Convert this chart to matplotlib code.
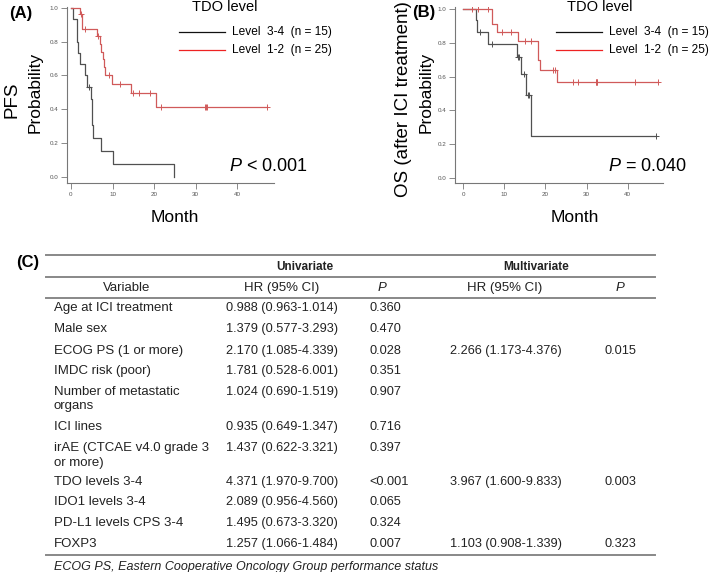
import matplotlib
matplotlib.use("Agg")
import matplotlib.pyplot as plt
from matplotlib.lines import Line2D
import numpy as np

plt.rcParams['font.family'] = ['Liberation Sans', 'DejaVu Sans']
plt.rcParams['mathtext.fontset'] = 'custom'
plt.rcParams['mathtext.it'] = 'Liberation Sans:italic'
plt.rcParams['mathtext.rm'] = 'Liberation Sans'

# ---- survival data (months, 1 = event, 0 = censored)
pfs_hi_time = [0.4, 1.4, 1.4, 1.8, 2.2, 3.3, 3.9, 4.3, 4.8, 5.1, 5.1, 5.4, 7.2, 10.2, 24.7]
pfs_hi_event = [1, 1, 1, 1, 1, 1, 1, 0, 1, 1, 1, 1, 1, 1, 1]
pfs_lo_time = [2.2, 2.4, 2.7, 2.7, 3.4, 6.3, 6.5, 6.9, 7.3, 7.6, 7.9, 8.3, 9.1,
               9.8, 11.8, 14.5, 14.9, 16.4, 19.0, 20.5, 21.8, 32.4, 32.5, 32.7, 47.2]
pfs_lo_event = [1, 0, 1, 1, 0, 1, 0, 1, 1, 1, 1, 1, 0, 1, 0, 1, 0, 0, 0, 1, 0, 0, 0, 0, 0]

os_hi_time = [3.0, 3.4, 4.1, 6.1, 6.9, 13.0, 13.4, 13.5, 14.0, 14.8, 15.2, 15.8, 16.0, 16.5, 47.0]
os_hi_event = [1, 1, 0, 1, 0, 1, 0, 0, 1, 0, 1, 0, 0, 1, 0]
os_lo_time = [2.0, 3.5, 6.1, 6.9, 6.9, 8.3, 9.3, 11.7, 13.2, 15.0, 16.5, 18.1, 18.1,
              18.7, 21.9, 22.2, 22.9, 26.8, 27.8, 32.3, 32.4, 32.5, 32.6, 41.8, 47.4]
os_lo_event = [0, 0, 0, 1, 1, 1, 0, 0, 1, 0, 0, 1, 1, 1, 0, 0, 1, 0, 0, 0, 0, 0, 0, 0, 0]

legend_labels = ['Level  3-4  (n = 15)', 'Level  1-2  (n = 25)']
p_texts = ['$P$ < 0.001', '$P$ = 0.040']

# ---- table data
variables = ['Age at ICI treatment', 'Male sex', 'ECOG PS (1 or more)', 'IMDC risk (poor)',
             'Number of metastatic\norgans', 'ICI lines', 'irAE (CTCAE v4.0 grade 3\nor more)',
             'TDO levels 3-4', 'IDO1 levels 3-4', 'PD-L1 levels CPS 3-4', 'FOXP3']
uni_hr = ['0.988 (0.963-1.014)', '1.379 (0.577-3.293)', '2.170 (1.085-4.339)',
          '1.781 (0.528-6.001)', '1.024 (0.690-1.519)', '0.935 (0.649-1.347)',
          '1.437 (0.622-3.321)', '4.371 (1.970-9.700)', '2.089 (0.956-4.560)',
          '1.495 (0.673-3.320)', '1.257 (1.066-1.484)']
uni_p = ['0.360', '0.470', '0.028', '0.351', '0.907', '0.716', '0.397', '<0.001',
         '0.065', '0.324', '0.007']
multi_hr = ['', '', '2.266 (1.173-4.376)', '', '', '', '', '3.967 (1.600-9.833)', '', '',
            '1.103 (0.908-1.339)']
multi_p = ['', '', '0.015', '', '', '', '', '0.003', '', '', '0.323']
footnote = 'ECOG PS, Eastern Cooperative Oncology Group performance status'

W, H = 709, 572
fig = plt.figure(figsize=(W / 100, H / 100), dpi=100)


def fx(x):
    return x / W


def fy(y):
    return 1 - y / H


def km(times, events):
    times = np.array(times)
    events = np.array(events)
    n = len(times)
    s = 1.0
    xs, ys, cx, cy = [0.0], [1.0], [], []
    for t in np.unique(times):
        d = int(((times == t) & (events == 1)).sum())
        c = int(((times == t) & (events == 0)).sum())
        if d:
            s *= (n - d) / n
        xs.append(t)
        ys.append(s)
        if c:
            cx.append(t)
            cy.append(s)
        n -= d + c
    return xs, ys, cx, cy


def km_panel(box, xlim, ylim, curves):
    l, r, t, b = box
    ax = fig.add_axes([fx(l), fy(b), fx(r - l), (b - t) / H])
    for times, events, col in curves:
        xs, ys, cx, cy = km(times, events)
        ax.step(xs, ys, where='post', color=col, lw=0.9)
        ax.plot(cx, cy, ls='none', marker='+', ms=4, mew=0.7, color=col)
    ax.set_xlim(xlim)
    ax.set_ylim(ylim)
    ax.set_xticks([0, 10, 20, 30, 40])
    ax.set_yticks([0, 0.2, 0.4, 0.6, 0.8, 1.0])
    ax.set_yticklabels(['0.0', '0.2', '0.4', '0.6', '0.8', '1.0'])
    for sp in ['top', 'right']:
        ax.spines[sp].set_visible(False)
    for sp in ['left', 'bottom']:
        ax.spines[sp].set_color('#777777')
        ax.spines[sp].set_linewidth(0.8)
    ax.tick_params(labelsize=4.5, labelcolor='#555555', color='#777777',
                   length=4, width=0.6, pad=2)
    return ax


black_c = '#505050'
red_c = '#d05a5a'
km_panel((67, 274, 6.7, 183.3), (-0.96, 48.9), (-0.039, 1.006),
         [(pfs_hi_time, pfs_hi_event, black_c), (pfs_lo_time, pfs_lo_event, red_c)])
km_panel((455, 663, 7, 183.3), (-2.02, 48.6), (-0.033, 1.012),
         [(os_hi_time, os_hi_event, black_c), (os_lo_time, os_lo_event, red_c)])

# panel labels / axis titles
fig.text(fx(21), fy(13.5), '(A)', fontsize=12, fontweight='bold', ha='center', va='center')
fig.text(fx(423.5), fy(12), '(B)', fontsize=12, fontweight='bold', ha='center', va='center')
fig.text(fx(11.7), fy(100), 'PFS', fontsize=13.5, rotation=90, ha='center', va='center')
fig.text(fx(35), fy(92), 'Probability', fontsize=12.5, rotation=90, ha='center', va='center')
fig.text(fx(403), fy(99), 'OS (after ICI treatment)', fontsize=13.5, rotation=90,
         ha='center', va='center')
fig.text(fx(426), fy(92), 'Probability', fontsize=12.5, rotation=90, ha='center', va='center')
fig.text(fx(175), fy(218), 'Month', fontsize=12.5, ha='center', va='center')
fig.text(fx(575), fy(218), 'Month', fontsize=12.5, ha='center', va='center')

# legends and p-values
for lx, tx, px, ptxt in [(179, 225, 229, p_texts[0]), (556, 600, 608, p_texts[1])]:
    fig.text(fx(tx), fy(7), 'TDO level', fontsize=10.5, ha='center', va='center')
    for i, (lab, col) in enumerate(zip(legend_labels, ['#111111', '#ee2222'])):
        y = 31.5 + i * 18.5
        fig.add_artist(Line2D([fx(lx), fx(lx + 46)], [fy(y), fy(y)], color=col, lw=0.9))
        fig.text(fx(lx + 53), fy(y), lab, fontsize=8.6, ha='left', va='center')
    fig.text(fx(px), fy(171), ptxt, fontsize=13, ha='left', va='baseline')

# ---- table
narrow = ['Liberation Sans Narrow', 'Liberation Sans', 'DejaVu Sans']
tcol = '#222222'
rule_c = '#888888'
for y in [255, 276.7, 297.7, 555]:
    fig.add_artist(Line2D([fx(45.5), fx(654.5)], [fy(y), fy(y)], color=rule_c, lw=1.4))

fig.text(fx(28), fy(262), '(C)', fontsize=12, fontweight='bold', ha='center', va='center')
fig.text(fx(304.5), fy(266.7), 'Univariate', fontsize=8.5, fontweight='bold',
         family=narrow, ha='center', va='center', color=tcol)
fig.text(fx(536), fy(266.7), 'Multivariate', fontsize=8.5, fontweight='bold',
         family=narrow, ha='center', va='center', color=tcol)
for cx, lab, st in [(127, 'Variable', 'normal'), (282, 'HR (95% CI)', 'normal'),
                    (382, 'P', 'italic'), (504.5, 'HR (95% CI)', 'normal'),
                    (620, 'P', 'italic')]:
    fig.text(fx(cx), fy(288.3), lab, fontsize=9.5, family=narrow, style=st,
             ha='center', va='center', color=tcol)

row_y = [308.3, 329.3, 350.7, 371, 391.7, 426.7, 448, 482.3, 502.3, 523.3, 544]
for i, y in enumerate(row_y):
    for j, line in enumerate(variables[i].split('\n')):
        fig.text(fx(53.6), fy(y + j * 14.8), line, fontsize=9.5, family=narrow,
                 ha='left', va='center', color=tcol)
    for cx, val in [(226, uni_hr[i]), (369, uni_p[i]), (450, multi_hr[i]), (604.5, multi_p[i])]:
        if val:
            fig.text(fx(cx), fy(y), val, fontsize=9.2, family=narrow,
                     ha='left', va='center', color=tcol)

fig.text(fx(53.6), fy(566.7), footnote, fontsize=9, family=narrow, style='italic',
         ha='left', va='center', color=tcol)

fig.savefig('out.png', dpi=100)
